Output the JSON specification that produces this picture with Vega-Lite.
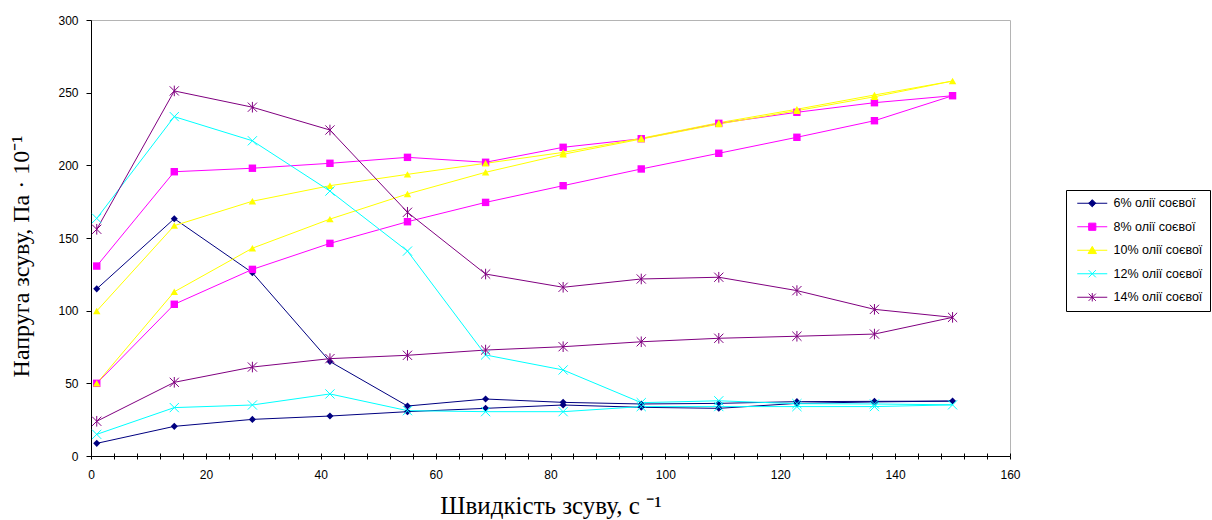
{
  "$schema": "https://vega.github.io/schema/vega-lite/v6.json",
  "width": 919,
  "height": 436,
  "autosize": "none",
  "padding": {"left": 91, "top": 20, "right": 202, "bottom": 64},
  "background": "white",
  "config": {
    "view": {"stroke": "#b4b4b4", "strokeWidth": 1},
    "font": "Liberation Sans",
    "axis": {"grid": false, "domainColor": "#000", "tickColor": "#000", "labelColor": "#000", "titleColor": "#000", "labelFont": "Liberation Sans", "labelFontSize": 12, "titleFont": "Liberation Serif", "titleFontSize": 24, "titleFontWeight": "normal"}
  },
  "data": {"values": [
    {"s":"6% олії соєвої","o":0,"x":1,"y":115},
    {"s":"6% олії соєвої","o":1,"x":14.5,"y":163.3},
    {"s":"6% олії соєвої","o":2,"x":28.1,"y":126.1},
    {"s":"6% олії соєвої","o":3,"x":41.6,"y":65},
    {"s":"6% олії соєвої","o":4,"x":55.1,"y":34.4},
    {"s":"6% олії соєвої","o":5,"x":68.7,"y":39.2},
    {"s":"6% олії соєвої","o":6,"x":82.2,"y":36.9},
    {"s":"6% олії соєвої","o":7,"x":95.8,"y":35.8},
    {"s":"6% олії соєвої","o":8,"x":109.3,"y":36.2},
    {"s":"6% олії соєвої","o":9,"x":122.9,"y":37.4},
    {"s":"6% олії соєвої","o":10,"x":136.4,"y":37.6},
    {"s":"6% олії соєвої","o":11,"x":150,"y":37.8},
    {"s":"6% олії соєвої","o":12,"x":136.4,"y":37.2},
    {"s":"6% олії соєвої","o":13,"x":122.9,"y":36.2},
    {"s":"6% олії соєвої","o":14,"x":109.3,"y":32.8},
    {"s":"6% олії соєвої","o":15,"x":95.8,"y":33.5},
    {"s":"6% олії соєвої","o":16,"x":82.2,"y":35.1},
    {"s":"6% олії соєвої","o":17,"x":68.7,"y":32.8},
    {"s":"6% олії соєвої","o":18,"x":55.1,"y":30.5},
    {"s":"6% олії соєвої","o":19,"x":41.6,"y":27.5},
    {"s":"6% олії соєвої","o":20,"x":28.1,"y":25.2},
    {"s":"6% олії соєвої","o":21,"x":14.5,"y":20.4},
    {"s":"6% олії соєвої","o":22,"x":1,"y":8.7},

    {"s":"8% олії соєвої","o":0,"x":1,"y":130.7},
    {"s":"8% олії соєвої","o":1,"x":14.5,"y":195.6},
    {"s":"8% олії соєвої","o":2,"x":28.1,"y":198},
    {"s":"8% олії соєвої","o":3,"x":41.6,"y":201.4},
    {"s":"8% олії соєвої","o":4,"x":55.1,"y":205.5},
    {"s":"8% олії соєвої","o":5,"x":68.7,"y":202.1},
    {"s":"8% олії соєвої","o":6,"x":82.2,"y":212.4},
    {"s":"8% олії соєвої","o":7,"x":95.8,"y":218.3},
    {"s":"8% олії соєвої","o":8,"x":109.3,"y":228.9},
    {"s":"8% олії соєвої","o":9,"x":122.9,"y":236.5},
    {"s":"8% олії соєвої","o":10,"x":136.4,"y":243.1},
    {"s":"8% олії соєвої","o":11,"x":150,"y":247.9},
    {"s":"8% олії соєвої","o":12,"x":136.4,"y":230.7},
    {"s":"8% олії соєвої","o":13,"x":122.9,"y":219.3},
    {"s":"8% олії соєвої","o":14,"x":109.3,"y":208.3},
    {"s":"8% олії соєвої","o":15,"x":95.8,"y":197.5},
    {"s":"8% олії соєвої","o":16,"x":82.2,"y":186},
    {"s":"8% олії соєвої","o":17,"x":68.7,"y":174.5},
    {"s":"8% олії соєвої","o":18,"x":55.1,"y":161.2},
    {"s":"8% олії соєвої","o":19,"x":41.6,"y":146.3},
    {"s":"8% олії соєвої","o":20,"x":28.1,"y":128.4},
    {"s":"8% олії соєвої","o":21,"x":14.5,"y":104.4},
    {"s":"8% олії соєвої","o":22,"x":1,"y":50},

    {"s":"10% олії соєвої","o":0,"x":1,"y":99.8},
    {"s":"10% олії соєвої","o":1,"x":14.5,"y":158.5},
    {"s":"10% олії соєвої","o":2,"x":28.1,"y":175.3},
    {"s":"10% олії соєвої","o":3,"x":41.6,"y":186},
    {"s":"10% олії соєвої","o":4,"x":55.1,"y":193.8},
    {"s":"10% олії соєвої","o":5,"x":68.7,"y":201.4},
    {"s":"10% олії соєвої","o":6,"x":82.2,"y":208.9},
    {"s":"10% олії соєвої","o":7,"x":95.8,"y":218.6},
    {"s":"10% олії соєвої","o":8,"x":109.3,"y":229.3},
    {"s":"10% олії соєвої","o":9,"x":122.9,"y":238.6},
    {"s":"10% олії соєвої","o":10,"x":136.4,"y":248.4},
    {"s":"10% олії соєвої","o":11,"x":150,"y":258},
    {"s":"10% олії соєвої","o":12,"x":136.4,"y":247.2},
    {"s":"10% олії соєвої","o":13,"x":122.9,"y":237.6},
    {"s":"10% олії соєвої","o":14,"x":109.3,"y":228.4},
    {"s":"10% олії соєвої","o":15,"x":95.8,"y":218.1},
    {"s":"10% олії соєвої","o":16,"x":82.2,"y":207.6},
    {"s":"10% олії соєвої","o":17,"x":68.7,"y":195.2},
    {"s":"10% олії соєвої","o":18,"x":55.1,"y":180.3},
    {"s":"10% олії соєвої","o":19,"x":41.6,"y":163},
    {"s":"10% олії соєвої","o":20,"x":28.1,"y":143},
    {"s":"10% олії соєвої","o":21,"x":14.5,"y":113},
    {"s":"10% олії соєвої","o":22,"x":1,"y":50},

    {"s":"12% олії соєвої","o":0,"x":1,"y":163.5},
    {"s":"12% олії соєвої","o":1,"x":14.5,"y":233.5},
    {"s":"12% олії соєвої","o":2,"x":28.1,"y":216.9},
    {"s":"12% олії соєвої","o":3,"x":41.6,"y":182.3},
    {"s":"12% олії соєвої","o":4,"x":55.1,"y":141},
    {"s":"12% олії соєвої","o":5,"x":68.7,"y":69.5},
    {"s":"12% олії соєвої","o":6,"x":82.2,"y":59.2},
    {"s":"12% олії соєвої","o":7,"x":95.8,"y":36.7},
    {"s":"12% олії соєвої","o":8,"x":109.3,"y":38},
    {"s":"12% олії соєвої","o":9,"x":122.9,"y":36},
    {"s":"12% олії соєвої","o":10,"x":136.4,"y":35.8},
    {"s":"12% олії соєвої","o":11,"x":150,"y":35.2},
    {"s":"12% олії соєвої","o":12,"x":136.4,"y":34},
    {"s":"12% олії соєвої","o":13,"x":122.9,"y":34},
    {"s":"12% олії соєвої","o":14,"x":109.3,"y":34},
    {"s":"12% олії соєвої","o":15,"x":95.8,"y":34},
    {"s":"12% олії соєвої","o":16,"x":82.2,"y":30.5},
    {"s":"12% олії соєвої","o":17,"x":68.7,"y":30.5},
    {"s":"12% олії соєвої","o":18,"x":55.1,"y":31.2},
    {"s":"12% олії соєвої","o":19,"x":41.6,"y":42.7},
    {"s":"12% олії соєвої","o":20,"x":28.1,"y":35.1},
    {"s":"12% олії соєвої","o":21,"x":14.5,"y":33.3},
    {"s":"12% олії соєвої","o":22,"x":1,"y":14.9},

    {"s":"14% олії соєвої","o":0,"x":1,"y":156},
    {"s":"14% олії соєвої","o":1,"x":14.5,"y":251.2},
    {"s":"14% олії соєвої","o":2,"x":28.1,"y":240},
    {"s":"14% олії соєвої","o":3,"x":41.6,"y":224.3},
    {"s":"14% олії соєвої","o":4,"x":55.1,"y":167.7},
    {"s":"14% олії соєвої","o":5,"x":68.7,"y":125.2},
    {"s":"14% олії соєвої","o":6,"x":82.2,"y":116.1},
    {"s":"14% олії соєвої","o":7,"x":95.8,"y":121.8},
    {"s":"14% олії соєвої","o":8,"x":109.3,"y":123},
    {"s":"14% олії соєвої","o":9,"x":122.9,"y":113.8},
    {"s":"14% олії соєвої","o":10,"x":136.4,"y":100.9},
    {"s":"14% олії соєвої","o":11,"x":150,"y":95.4},
    {"s":"14% олії соєвої","o":12,"x":136.4,"y":83.9},
    {"s":"14% олії соєвої","o":13,"x":122.9,"y":82.4},
    {"s":"14% олії соєвої","o":14,"x":109.3,"y":81},
    {"s":"14% олії соєвої","o":15,"x":95.8,"y":78.6},
    {"s":"14% олії соєвої","o":16,"x":82.2,"y":75.2},
    {"s":"14% олії соєвої","o":17,"x":68.7,"y":72.9},
    {"s":"14% олії соєвої","o":18,"x":55.1,"y":69.3},
    {"s":"14% олії соєвої","o":19,"x":41.6,"y":67},
    {"s":"14% олії соєвої","o":20,"x":28.1,"y":61.2},
    {"s":"14% олії соєвої","o":21,"x":14.5,"y":50.7},
    {"s":"14% олії соєвої","o":22,"x":1,"y":23.9}
  ]},
  "layer": [
    {
      "mark": {"type": "line", "strokeWidth": 1},
      "encoding": {
        "x": {"field": "x", "type": "quantitative", "scale": {"domain": [0, 160], "nice": false, "zero": false},
          "axis": {"title": "Швидкість зсуву, с ⁻¹", "titleFontSize": 25, "values": [0,4,8,12,16,20,24,28,32,36,40,44,48,52,56,60,64,68,72,76,80,84,88,92,96,100,104,108,112,116,120,124,128,132,136,140,144,148,152,156,160],
            "labelExpr": "datum.value % 20 === 0 ? datum.label : ''", "labelOverlap": false, "labelFlush": false, "tickSize": 3, "labelPadding": 10, "titlePadding": 13}},
        "y": {"field": "y", "type": "quantitative", "scale": {"domain": [0, 300], "nice": false},
          "axis": {"title": "Напруга зсуву, Па · 10⁻¹", "values": [0,50,100,150,200,250,300], "tickSize": 5, "labelPadding": 8, "titlePadding": 24, "titleY": 236}},
        "order": {"field": "o", "type": "quantitative"},
        "color": {"field": "s", "type": "nominal",
          "scale": {"domain": ["6% олії соєвої","8% олії соєвої","10% олії соєвої","12% олії соєвої","14% олії соєвої"], "range": ["#000080","#FF00FF","#FFFF00","#00FFFF","#800080"]},
          "legend": {"title": null, "orient": "none", "legendX": 975, "legendY": 170, "direction": "vertical",
            "strokeColor": "#000", "fillColor": "white", "padding": 7,
            "labelFont": "Liberation Sans", "labelFontSize": 12.5, "labelColor": "#000",
            "symbolSize": 36, "symbolOffset": 13, "labelOffset": 15, "rowPadding": 10.5, "symbolStrokeWidth": 1,
            "encode": {"symbols": {"update": {
              "shape": {"signal": "['M-5,0L5,0M0,-1.2L1.2,0L0,1.2L-1.2,0Z','M-5,0L5,0M-1.2,-1.2L1.2,-1.2L1.2,1.2L-1.2,1.2Z','M-5,0L5,0M0,-1.3L1.4,1.1L-1.4,1.1Z','M-5,0L5,0M-1.2,-1.2L1.2,1.2M-1.2,1.2L1.2,-1.2','M-5,0L5,0M-1.2,-1.2L1.2,1.2M-1.2,1.2L1.2,-1.2M0,-1.4L0,1.4'][indexof(['6% олії соєвої','8% олії соєвої','10% олії соєвої','12% олії соєвої','14% олії соєвої'], datum.value)]"},
              "fill": {"signal": "scale('color', datum.value)"},
              "stroke": {"signal": "scale('color', datum.value)"},
              "strokeWidth": {"value": 1},
              "opacity": {"value": 1}
            }}}}
        }
      }
    },
    {
      "transform": [{"filter": "datum.s === '6% олії соєвої'"}],
      "mark": {"type": "point", "shape": "diamond", "filled": true, "size": 50, "opacity": 1},
      "encoding": {
        "x": {"field": "x", "type": "quantitative",
          "axis": {"title": null, "values": [0,4,8,12,16,20,24,28,32,36,40,44,48,52,56,60,64,68,72,76,80,84,88,92,96,100,104,108,112,116,120,124,128,132,136,140,144,148,152,156,160], "labels": false, "domain": false, "tickSize": -3, "orient": "bottom"}},
        "y": {"field": "y", "type": "quantitative"},
        "color": {"field": "s", "type": "nominal"}
      }
    },
    {
      "transform": [{"filter": "datum.s === '8% олії соєвої'"}],
      "mark": {"type": "point", "shape": "square", "filled": true, "size": 55, "opacity": 1},
      "encoding": {
        "x": {"field": "x", "type": "quantitative", "axis": null},
        "y": {"field": "y", "type": "quantitative"},
        "color": {"field": "s", "type": "nominal"}
      }
    },
    {
      "transform": [{"filter": "datum.s === '10% олії соєвої'"}],
      "mark": {"type": "point", "shape": "triangle-up", "filled": true, "size": 55, "opacity": 1},
      "encoding": {
        "x": {"field": "x", "type": "quantitative", "axis": null},
        "y": {"field": "y", "type": "quantitative"},
        "color": {"field": "s", "type": "nominal"}
      }
    },
    {
      "transform": [{"filter": "datum.s === '12% олії соєвої'"}],
      "mark": {"type": "point", "shape": "M-1.3,-1.3L1.3,1.3M-1.3,1.3L1.3,-1.3", "filled": false, "size": 50, "strokeWidth": 1, "opacity": 1},
      "encoding": {
        "x": {"field": "x", "type": "quantitative", "axis": null},
        "y": {"field": "y", "type": "quantitative"},
        "color": {"field": "s", "type": "nominal"}
      }
    },
    {
      "transform": [{"filter": "datum.s === '14% олії соєвої'"}],
      "mark": {"type": "point", "shape": "M-1.3,-1.3L1.3,1.3M-1.3,1.3L1.3,-1.3M0,-1.5L0,1.5", "filled": false, "size": 50, "strokeWidth": 1, "opacity": 1},
      "encoding": {
        "x": {"field": "x", "type": "quantitative", "axis": null},
        "y": {"field": "y", "type": "quantitative"},
        "color": {"field": "s", "type": "nominal"}
      }
    }
  ],
  "resolve": {"axis": {"x": "independent"}}
}
